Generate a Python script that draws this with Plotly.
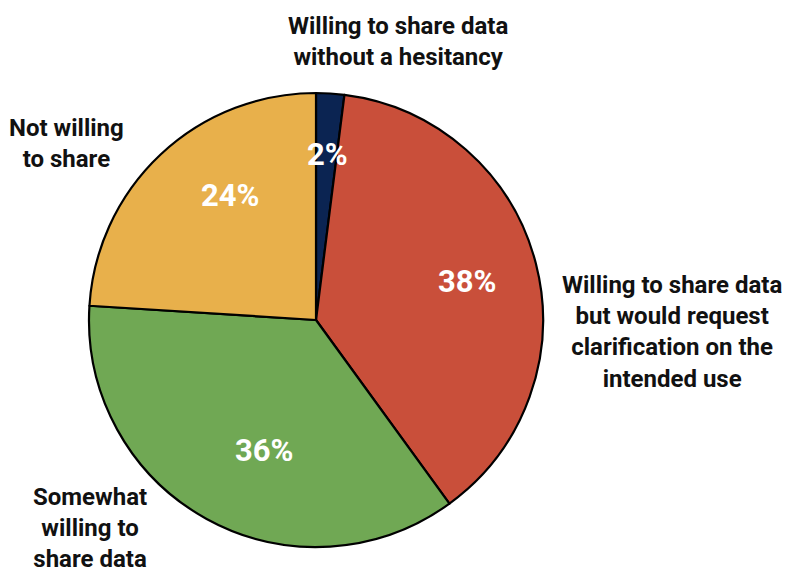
import math
import plotly.graph_objects as go

# Survey responses on willingness to share data
categories = [
    "Willing to share data<br>without a hesitancy",
    "Willing to share data<br>but would request<br>clarification on the<br>intended use",
    "Somewhat<br>willing to<br>share data",
    "Not willing<br>to share",
]
values = [2, 38, 36, 24]
colors = ["#0b2452", "#c94f3a", "#70a854", "#e8b04b"]

W, H = 804, 573
CX, CY, R = 316, 320, 227  # pie centre and radius in pixels

fig = go.Figure(
    go.Pie(
        labels=categories,
        values=values,
        sort=False,
        direction="clockwise",
        rotation=0,
        marker=dict(colors=colors, line=dict(color="#000000", width=2.2)),
        textinfo="none",
        hoverinfo="label+percent",
        showlegend=False,
        domain=dict(
            x=[(CX - R) / W, (CX + R) / W],
            y=[(H - CY - R) / H, (H - CY + R) / H],
        ),
    )
)

# Percent labels placed inside each slice along its mid angle
total = sum(values)
radial = [0.82, 0.69, 0.76, 0.75]
cum = 0
for v, rf in zip(values, radial):
    mid = (cum + v / 2) / total * 2 * math.pi
    cum += v
    px = CX + math.sin(mid) * R * rf
    py = CY - math.cos(mid) * R * rf
    fig.add_annotation(
        x=px / W, y=1 - py / H, xref="paper", yref="paper",
        text=f"{v}%", showarrow=False,
        font=dict(family="Roboto", size=31, color="white", weight="bold"),
    )

# Category labels around the pie
label_pos = [
    (398, 42, "center", "center", 24),
    (672, 332, "center", "center", 24),
    (90, 528, "center", "center", 24),
    (7, 143, "left", "center", 24),
]
for text, (px, py, xa, al, fs) in zip(categories, label_pos):
    fig.add_annotation(
        x=px / W, y=1 - py / H, xref="paper", yref="paper",
        text=f"<b>{text}</b>", showarrow=False,
        xanchor=xa, yanchor="middle", align=al,
        font=dict(family="Roboto", size=fs, color="#111111"),
    )

fig.update_layout(
    width=W, height=H,
    margin=dict(l=0, r=0, t=0, b=0),
    paper_bgcolor="white",
    plot_bgcolor="white",
)

fig.write_html("out.html")
